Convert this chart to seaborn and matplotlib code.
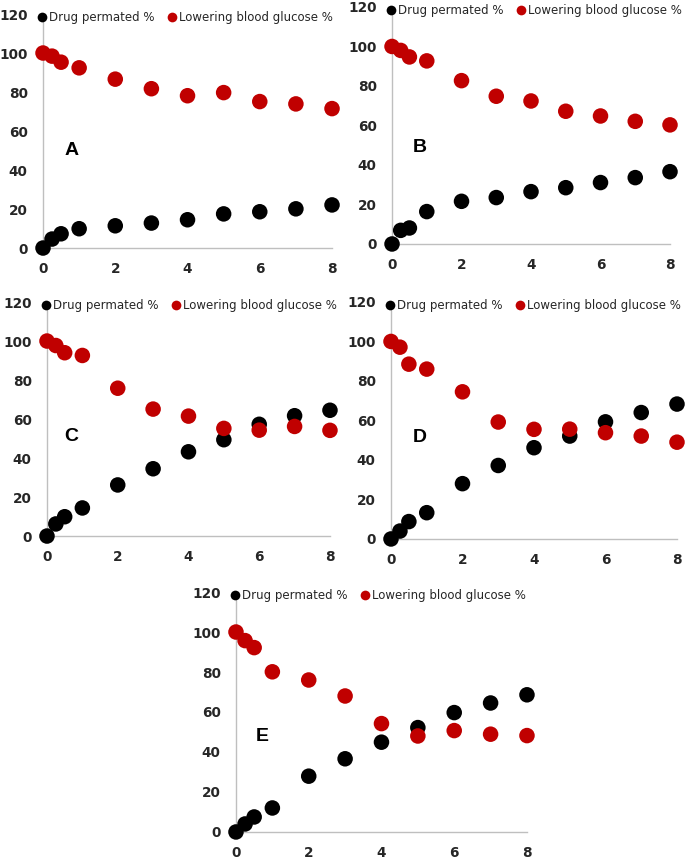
import matplotlib
matplotlib.use("Agg")
import matplotlib.pyplot as plt
import seaborn as sns
import pandas as pd
from matplotlib.lines import Line2D

sns.set_theme(style="white")
plt.rcParams['font.family'] = ['DejaVu Sans']

time = [0, 0.25, 0.5, 1, 2, 3, 4, 5, 6, 7, 8]
panels = ["A", "B", "C", "D", "E"]

drug_A = [0, 4.6, 7.3, 9.9, 11.4, 12.8, 14.5, 17.5, 18.6, 20.1, 22.1]
glu_A = [100, 98.4, 95.3, 92.4, 86.6, 81.7, 78.1, 79.7, 75.1, 73.9, 71.5]
drug_B = [0, 6.9, 8.1, 16.4, 21.6, 23.5, 26.5, 28.5, 31.1, 33.6, 36.6]
glu_B = [100, 98.0, 94.7, 92.7, 82.7, 74.8, 72.4, 67.2, 64.8, 62.1, 60.3]
drug_C = [0, 6.2, 9.9, 14.4, 26.2, 34.5, 43.2, 49.4, 57.3, 61.7, 64.5]
glu_C = [100, 97.7, 94.0, 92.6, 75.8, 65.1, 61.5, 55.2, 54.3, 56.2, 54.2]
drug_D = [0, 4.0, 8.8, 13.3, 28.0, 37.2, 46.2, 52.1, 59.3, 64.0, 68.3]
glu_D = [100, 97.1, 88.5, 86.0, 74.5, 59.2, 55.5, 55.6, 53.8, 52.1, 49.0]
drug_E = [0, 4.0, 7.5, 12.0, 27.9, 36.6, 44.9, 52.2, 59.7, 64.5, 68.6]
glu_E = [100, 95.7, 92.2, 80.1, 76.0, 68.0, 54.2, 48.0, 50.7, 48.9, 48.2]

drug = {"A": drug_A, "B": drug_B, "C": drug_C, "D": drug_D, "E": drug_E}
glu = {"A": glu_A, "B": glu_B, "C": glu_C, "D": glu_D, "E": glu_E}

series_names = ["Drug permated %", "Lowering blood glucose %"]
colors = {"Drug permated %": "#000000", "Lowering blood glucose %": "#C00000"}

x_ticks = [0, 2, 4, 6, 8]
y_ticks = [0, 20, 40, 60, 80, 100, 120]

# axes rectangles (figure fraction)
rects = {
    "A": [0.0628, 0.7116, 0.4219, 0.2721],
    "B": [0.5723, 0.7163, 0.4058, 0.2756],
    "C": [0.0686, 0.3767, 0.4131, 0.2721],
    "D": [0.5708, 0.3733, 0.4175, 0.2756],
    "E": [0.3445, 0.0326, 0.4248, 0.2790],
}
letter_pos = {"A": (0.8, 50), "B": (0.8, 48.6), "C": (0.68, 50.8),
              "D": (0.81, 51.6), "E": (0.71, 47.5)}

fig = plt.figure(figsize=(6.85, 8.6), dpi=100)
fig.patch.set_facecolor("white")

for p in panels:
    ax = fig.add_axes(rects[p])
    df = pd.DataFrame({
        "time": time * 2,
        "value": drug[p] + glu[p],
        "series": [series_names[0]] * len(time) + [series_names[1]] * len(time),
    })
    sns.scatterplot(data=df, x="time", y="value", hue="series",
                    palette=colors, hue_order=series_names, s=125,
                    linewidth=0, legend=False, ax=ax, clip_on=False, zorder=3)
    ax.set_xlim(0, 8)
    ax.set_ylim(0, 120)
    ax.set_xticks(x_ticks)
    ax.set_yticks(y_ticks)
    ax.set_xlabel("")
    ax.set_ylabel("")
    ax.tick_params(axis="both", length=0, labelsize=9.8, labelcolor="#262626")
    ax.tick_params(axis="y", pad=11)
    ax.tick_params(axis="x", pad=10)
    for lab in ax.get_xticklabels() + ax.get_yticklabels():
        lab.set_fontweight("bold")
    for s in ["top", "right"]:
        ax.spines[s].set_visible(False)
    for s in ["left", "bottom"]:
        ax.spines[s].set_color("#BFBFBF")
        ax.spines[s].set_linewidth(1.0)
    ax.patch.set_alpha(0)
    lx, ly = letter_pos[p]
    ax.text(lx, ly, p, fontsize=14, fontweight="bold", family="Liberation Sans",
            ha="center", va="center", color="#000000")
    handles = [Line2D([0], [0], marker="o", linestyle="", markersize=7,
                      markerfacecolor=colors[n], markeredgewidth=0) for n in series_names]
    ax.legend(handles, series_names, loc="center left", bbox_to_anchor=(-0.02, 0.985),
              ncol=2, frameon=False, fontsize=8.5, handlelength=0.8,
              handletextpad=0.2, columnspacing=1.05, borderpad=0, borderaxespad=0,
              labelcolor="#262626")

fig.savefig("out.png", dpi=100, facecolor="white")
